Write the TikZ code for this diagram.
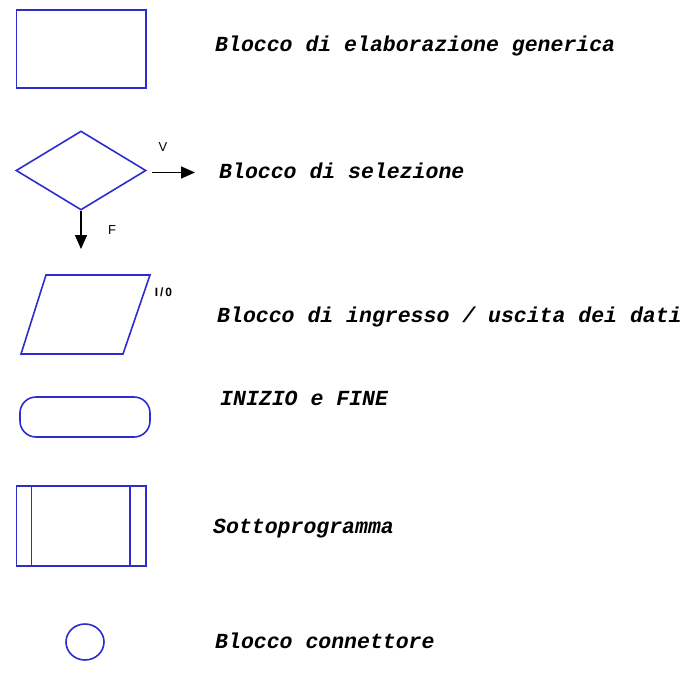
\documentclass[tikz,border=0pt]{standalone}
\usepackage{fontspec}
\setmonofont{Liberation Mono}
\newfontfamily\lsans{Liberation Sans}
\usetikzlibrary{shapes.geometric,arrows.meta}
\definecolor{fblue}{RGB}{45,45,205}
\begin{document}
\begin{tikzpicture}[x=1pt,y=-1pt,
  shp/.style={draw=fblue,line width=1.6pt,inner sep=0pt},
  lbl/.style={anchor=base west,inner sep=0pt,font=\fontsize{21.5}{24}\selectfont\ttfamily\bfseries\itshape},
  arr/.style={draw=black,line width=1.6pt,-{Triangle[length=14pt,width=12pt]}},
  small/.style={inner sep=0pt,font=\fontsize{13}{15}\selectfont\lsans}]
\useasboundingbox (0,0) rectangle (699,680);
% generic processing block
\node[shp,rectangle,minimum width=129.5pt,minimum height=78pt] (proc) at (81.25,49) {};
\node[lbl] (tproc) at (215,51) {Blocco di elaborazione generica};
% decision
\node[shp,diamond,minimum width=130pt,minimum height=79pt] (dec) at (81,170.5) {};
\coordinate (vstart) at (152,172.5);
\coordinate (vend) at (195,172.5);
\draw[arr] (vstart) -- (vend);
\node[small] (lv) at (163,147.5) {V};
\coordinate (fend) at (81,249);
\draw[arr] (dec.south) -- (fend);
\node[small] (lf) at (112,230) {F};
\node[lbl] (tdec) at (219,178.5) {Blocco di selezione};
% input / output
\coordinate (p1) at (46,275);
\coordinate (p2) at (150,275);
\coordinate (p3) at (123,354);
\coordinate (p4) at (21,354);
\draw[shp,line join=miter] (p1) -- (p2) -- (p3) -- (p4) -- cycle;
\node[inner sep=0pt,font=\fontsize{12}{14}\selectfont\lsans\bfseries] (lio) at (163.5,292) {I\,/\,0};
\node[lbl] (tio) at (217,322) {Blocco di ingresso / uscita dei dati};
% start / end
\node[shp,rectangle,rounded corners=16pt,minimum width=130pt,minimum height=40pt] (term) at (85,417) {};
\node[lbl] (tterm) at (220,405) {INIZIO e FINE};
% subprogram
\node[shp,rectangle,minimum width=129.5pt,minimum height=80pt] (sub) at (81.25,526) {};
\coordinate (s1) at (31.5,486);
\coordinate (s2) at (31.5,566);
\coordinate (s3) at (130,486);
\coordinate (s4) at (130,566);
\draw[shp] (s1) -- (s2);
\draw[shp] (s3) -- (s4);
\node[lbl] (tsub) at (213,533) {Sottoprogramma};
% connector
\node[shp,ellipse,minimum width=38pt,minimum height=36pt] (conn) at (85,642) {};
\node[lbl] (tconn) at (215,648) {Blocco connettore};
\end{tikzpicture}
\end{document}
